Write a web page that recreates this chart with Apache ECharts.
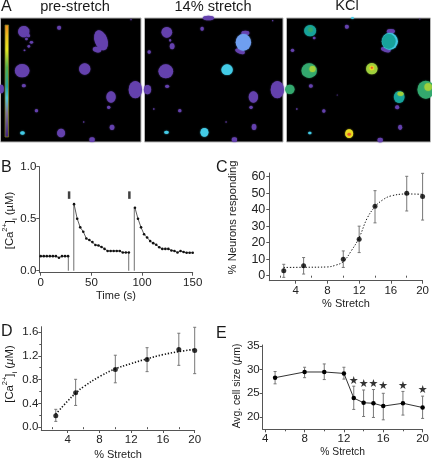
<!DOCTYPE html>
<html><head><meta charset="utf-8">
<style>html,body{margin:0;padding:0;background:#fff}#c{width:432px;height:461px}</style>
<script src="https://cdn.jsdelivr.net/npm/echarts@6/dist/echarts.min.js"></script>
</head><body><div id="c"></div>
<script>
// Panel A: cells as [x, y, w, h, level, angle] in image pixels (x3)
const levelColors = ['#6441ad','#6f9ff0','#43cbe6','#17a39b','#33a86e','#9fd03c','#e9de24','#e8602a'];
const cellsPre = [[193,53,24,12,0,0],[70,96,34,34,0,-20],[84,108,10,10,0,0],[176,84,12,12,0,0],[392,60,4,4,0,0],[302,122,38,62,0,20],[290,150,26,16,0,-15],[78,118,8,8,0,0],[93,128,10,8,0,0],[85,140,8,8,0,0],[72,152,6,5,0,0],[65,213,44,40,0,0],[253,208,34,34,0,0],[405,270,40,52,0,0],[2,268,16,26,0,0],[70,258,12,10,0,0],[332,292,28,34,0,0],[325,323,10,10,0,0],[108,333,10,10,0,0],[335,383,14,16,0,0],[182,400,24,26,0,0],[275,420,16,14,0,0],[66,400,14,10,2,0],[250,367,4,4,0,0]];
const cellsStretch = [[192,55,34,14,0,0],[67,98,32,32,0,0],[173,87,10,12,0,0],[83,140,14,18,0,0],[77,122,6,8,0,0],[14,157,10,10,0,0],[64,215,44,42,0,0],[68,260,12,10,0,0],[9,270,22,28,0,0],[106,333,10,10,0,0],[28,328,5,4,0,0],[66,398,14,10,2,0],[180,398,24,26,2,0],[303,100,24,14,0,0],[287,155,30,14,0,-20],[297,128,46,50,1,0],[248,210,34,32,2,0],[399,270,40,52,0,0],[327,292,28,34,0,0],[320,323,10,10,0,0],[329,382,14,18,0,0],[270,420,16,14,0,0],[245,367,4,4,0,0],[385,63,4,4,0,0]];
const cellsKCl = [[71,93,36,34,3,0],[72,90,14,14,4,0],[83,115,8,8,0,0],[181,81,12,12,0,0],[18,152,10,10,0,0],[68,213,46,44,4,0],[78,208,18,18,5,0],[256,207,34,34,5,0],[256,205,14,14,6,0],[256,204,6,6,7,0],[10,269,28,28,4,0],[73,259,12,10,0,0],[418,270,50,54,4,0],[425,262,22,22,5,0],[338,292,32,36,3,0],[342,282,18,12,5,0],[332,323,12,12,0,0],[31,328,5,5,0,0],[112,334,10,10,0,0],[341,383,12,16,0,0],[188,402,24,26,6,0],[188,404,10,8,7,0],[70,400,10,8,2,0],[281,421,16,14,0,0],[313,95,24,14,0,0],[298,150,30,14,0,-15],[310,125,48,50,2,0],[307,125,40,44,3,0],[198,55,8,6,2,0],[152,286,3,3,0,0],[400,58,3,3,0,0]];
const titlesA = ['pre-stretch','14% stretch','KCl'];

// Panel B
const timeA = [0,3,6,9,12,15,18,21,24,27];
const caA = [0.14,0.14,0.14,0.14,0.14,0.14,0.125,0.14,0.14,0.14];
const timeB = [32.9,36,39,42,45,48,51,54,57,60,63,66,69,72,75,78,81,84,87];
const caB = [0.64,0.5,0.417,0.375,0.31,0.295,0.275,0.247,0.243,0.228,0.21,0.19,0.19,0.19,0.19,0.19,0.175,0.175,0.175];
const timeC = [93,96,99,102,105,108,111,114,117,120,123,126,129,132,135,138,141,144,147,150];
const caC = [0.605,0.5,0.417,0.35,0.32,0.285,0.265,0.25,0.225,0.21,0.21,0.21,0.195,0.19,0.175,0.19,0.18,0.173,0.173,0.173];
const dropTimes = [27.3,32.6,86.8,92.4];
const dropTops = [0.14,0.64,0.175,0.605];
const stimTimes = [28,87.5];
const stimLevel = [0.727,0.727];

// Panel C
const cX = [2.5,5,10,12,14,18,20];
const cY = [3,6,10,22,42,50,48];
const cLow = [-1,1,5,14,32,39.2,33.7];
const cHigh = [6.9,11,15,30,51.5,60.2,62];
const cFitX = [2.5,5,8,9,10,11,12,13,14,15,16,18,20];
const cFitY = [5,5.1,5.3,6.3,8.5,15,23,34.7,41.8,46,48.3,49.5,49.3];

// Panel D
const dX = [2.5,5,10,14,18,20];
const dY = [0.193,0.58,0.97,1.14,1.305,1.29];
const dLow = [0.097,0.365,0.746,0.934,1.04,0.9];
const dHigh = [0.3,0.805,1.21,1.337,1.58,1.68];
const dFitX = [2.5,4,5,6,8,10,12,14,16,18,20];
const dFitY = [0.22,0.44,0.57,0.68,0.85,0.98,1.07,1.15,1.22,1.27,1.31];

// Panel E
const eX = [5,8,10,12,13,14,15,16,18,20];
const eY = [28.3,29.5,29.5,29.2,24,23,22.9,22.3,22.9,22];
const eLow = [27,28.3,27.9,28,21.6,20.1,19.9,19.4,20.4,19.7];
const eHigh = [29.6,30.5,31.2,30.5,26.5,25.7,25.8,25,25.4,24.4];
const starX = [13,14,15,16,18,20];
const starY = [27.5,27,27,26.6,26.5,25.6];

// Ticks
const bXTicks = [0,50,100,150], bYTicks = [0,0.5,1];
const cXTicks = [4,8,12,16,20], cXMinor = [2,6,10,14,18], cYTicks = [0,10,20,30,40,50,60];
const dYTicks = [0,0.4,0.8,1.2,1.6], dYMinor = [0.2,0.6,1,1.4];
const eXTicks = [4,8,12,16,20], eXMinor = [6,10,14,18], eYTicks = [20,25,30,35];

const FONT = '"Liberation Sans", Arial, sans-serif';
const INK = '#222', AXIS = '#555', BAR = '#777';
const grids = [], xAxes = [], yAxes = [], series = [];

function zip(a, b) { return a.map((v, i) => [v, b[i]]); }

function panel(p) {
  const g = grids.length;
  grids.push({ left: p.left, top: p.top, width: p.right - p.left, height: p.bottom - p.top, containLabel: false });
  const common = { type: 'value', gridIndex: g, splitLine: { show: false }, scale: true,
    axisLine: { show: true, onZero: false, lineStyle: { color: AXIS, width: 1 } } };
  const label = (vals, fs, fmt, m) => ({ customValues: vals, fontFamily: FONT, fontSize: fs, color: INK, margin: m, formatter: fmt, showMinLabel: true, showMaxLabel: true, hideOverlap: false });
  xAxes.push(Object.assign({}, common, { min: p.xMin, max: p.xMax, position: 'bottom',
    axisTick: { customValues: p.xTicks, length: 3, lineStyle: { color: AXIS } },
    axisLabel: label(p.xTicks, p.xFs || 11.5, v => String(v), 4),
    name: p.xName, nameLocation: 'middle', nameGap: p.xGap,
    nameTextStyle: { fontFamily: FONT, fontSize: p.xNameFs || 11, color: INK } }));
  const xi = xAxes.length - 1;
  yAxes.push(Object.assign({}, common, { min: p.yMin, max: p.yMax, position: 'left',
    axisTick: { customValues: p.yTicks, length: 3, lineStyle: { color: AXIS } },
    axisLabel: label(p.yTicks, p.yFs || 11.5, p.yFmt || (v => String(v)), p.yMargin || 3) }));
  const yi = yAxes.length - 1;
  if (p.xMinor) xAxes.push(Object.assign({}, common, { min: p.xMin, max: p.xMax, position: 'bottom', offset: 0,
    axisLine: { show: false }, axisLabel: { show: false },
    axisTick: { customValues: p.xMinor, length: 2, lineStyle: { color: AXIS } } }));
  if (p.yMinor) yAxes.push(Object.assign({}, common, { min: p.yMin, max: p.yMax, position: 'left', offset: 0,
    axisLine: { show: false }, axisLabel: { show: false },
    axisTick: { customValues: p.yMinor, length: 2, lineStyle: { color: AXIS } } }));
  return { xAxisIndex: xi, yAxisIndex: yi };
}

function errorBars(ax, xs, lows, highs, capW) {
  series.push(Object.assign({}, ax, { type: 'custom', silent: true, z: 2, clip: false,
    data: xs.map((x, i) => [x, lows[i], highs[i]]),
    encode: { x: 0, y: [1, 2] },
    renderItem(params, api) {
      const a = api.coord([api.value(0), api.value(1)]);
      const b = api.coord([api.value(0), api.value(2)]);
      const st = { stroke: BAR, lineWidth: 1, fill: null };
      const ln = (x1, y1, x2, y2) => ({ type: 'line', shape: { x1, y1, x2, y2 }, style: st });
      return { type: 'group', children: [
        ln(a[0], a[1], b[0], b[1]),
        ln(a[0] - capW, a[1], a[0] + capW, a[1]),
        ln(b[0] - capW, b[1], b[0] + capW, b[1])
      ] };
    } }));
}

function fitCurve(ax, xs, ys, w) {
  series.push(Object.assign({}, ax, { type: 'line', data: zip(xs, ys), smooth: 0.4, showSymbol: false, silent: true, z: 3,
    lineStyle: { color: '#111', width: w, type: [1.3, 1.8] } }));
}
function dots(ax, xs, ys, size) {
  series.push(Object.assign({}, ax, { type: 'scatter', data: zip(xs, ys), symbol: 'circle', symbolSize: size, silent: true, z: 4,
    itemStyle: { color: '#000' } }));
}

// Panel A image panels
function imagePanel(left, right, cells, widthUnits) {
  const g = grids.length;
  grids.push({ left, top: 18, width: right - left, height: 124, show: true, backgroundColor: '#000', borderColor: '#b5b5b5', borderWidth: 1 });
  const hidden = { type: 'value', gridIndex: g, show: false, splitLine: { show: false } };
  xAxes.push(Object.assign({}, hidden, { min: 0, max: widthUnits }));
  yAxes.push(Object.assign({}, hidden, { min: 55, max: 427, inverse: true }));
  series.push({ type: 'scatter', xAxisIndex: xAxes.length - 1, yAxisIndex: yAxes.length - 1, silent: true, clip: true,
    data: cells.map(c => ({ value: [c[0], c[1]], symbolSize: [c[2] / 3, c[3] / 3], symbolRotate: c[5],
      itemStyle: { color: levelColors[c[4]], shadowBlur: 1.5, shadowColor: levelColors[c[4]], opacity: 1 } })) });
}
imagePanel(0.5, 141, cellsPre, 422);
imagePanel(144.5, 283, cellsStretch, 416);
imagePanel(286.5, 430.5, cellsKCl, 432);

// B
const axB = panel({ left: 39.3, right: 192.7, top: 166.7, bottom: 272.7, xMin: -1.4, xMax: 150, yMin: -0.019, yMax: 1,
  xTicks: bXTicks, yTicks: bYTicks, yFmt: v => v.toFixed(1), xName: 'Time (s)', xGap: 18 });
dropTimes.forEach((t, i) => series.push(Object.assign({}, axB, { type: 'line', data: [[t, 0], [t, dropTops[i]]], showSymbol: false, silent: true, z: 2,
  lineStyle: { color: '#888', width: 1.2 } })));
[[timeA, caA], [timeB, caB], [timeC, caC]].forEach(([t, v]) => series.push(Object.assign({}, axB, { type: 'line', data: zip(t, v), symbol: 'circle', symbolSize: 2.6, silent: true, z: 3,
  itemStyle: { color: '#111' }, lineStyle: { color: '#333', width: 0.8 } })));
series.push(Object.assign({}, axB, { type: 'scatter', data: zip(stimTimes, stimLevel), symbol: 'rect', symbolSize: [2.5, 7.5], silent: true, itemStyle: { color: '#111' } }));

// C
const axC = panel({ left: 269.3, right: 422.7, top: 173, bottom: 280.7, xMin: 0.675, xMax: 20, yMin: -3.03, yMax: 62.2,
  xTicks: cXTicks, xMinor: cXMinor, yTicks: cYTicks, xName: '% Stretch', xGap: 18, yFs: 12.5, yMargin: 4 });
errorBars(axC, cX, cLow, cHigh, 1.5);
fitCurve(axC, cFitX, cFitY, 1);
dots(axC, cX, cY, 5);

// D
const axD = panel({ left: 41.3, right: 194.7, top: 326.7, bottom: 433.3, xMin: 0.675, xMax: 20, yMin: -0.048, yMax: 1.69,
  xTicks: cXTicks, xMinor: cXMinor, yTicks: dYTicks, yMinor: dYMinor, yFmt: v => v.toFixed(1), xName: '% Stretch', xGap: 19 });
errorBars(axD, dX, dLow, dHigh, 1.5);
fitCurve(axD, dFitX, dFitY, 1.6);
dots(axD, dX, dY, 5);

// E
const axE = panel({ left: 262.7, right: 426, top: 345, bottom: 429.3, xMin: 3.74, xMax: 20, yMin: 17.4, yMax: 35.2,
  xTicks: eXTicks, xMinor: eXMinor, yTicks: eYTicks, xName: '% Stretch', xGap: 18, xNameFs: 10.3 });
errorBars(axE, eX, eLow, eHigh, 1.5);
series.push(Object.assign({}, axE, { type: 'line', data: zip(eX, eY), symbol: 'circle', symbolSize: 4.5, silent: true, z: 4,
  itemStyle: { color: '#000' }, lineStyle: { color: '#333', width: 1 } }));
series.push(Object.assign({}, axE, { type: 'scatter', data: zip(starX, starY), symbolSize: 0, silent: true, z: 5, clip: false,
  label: { show: true, position: 'inside', formatter: '★', fontFamily: '"DejaVu Sans"', fontSize: 11, color: '#000' } }));

const txt = (t, x, y, fs, align) => ({ type: 'text', x, y, silent: true, style: { text: t, fontFamily: FONT, fontSize: fs, fill: '#1a1a1a', textAlign: align || 'center', textVerticalAlign: 'middle' } });
const rb = (fs, extra) => Object.assign({ fontFamily: FONT, fontSize: fs, fill: '#1a1a1a', lineHeight: 18, verticalAlign: 'middle' }, extra || {});
const rich = {
  b: rb(11.3), it: rb(11.3, { fontStyle: 'italic' }),
  sup: rb(7.5, { verticalAlign: 'top', lineHeight: 14 }), sub: rb(7.5, { verticalAlign: 'bottom', lineHeight: 14 })
};
const vtxt = (t, x, y, fs) => ({ type: 'text', x, y, rotation: Math.PI / 2, silent: true,
  style: { text: t, fontFamily: FONT, fontSize: fs, fill: '#1a1a1a', align: 'center', verticalAlign: 'middle', rich } });
const graphic = [
  txt('A', 1, 7, 16, 'left'), txt('B', 1, 168, 16, 'left'), txt('C', 216, 168, 16, 'left'), txt('D', 1, 332, 16, 'left'), txt('E', 216, 334, 16, 'left'),
  txt(titlesA[0], 75, 7, 14.6), txt(titlesA[1], 213, 7, 14.6), txt(titlesA[2], 347, 6, 14.6),
  vtxt('{b|[Ca}{sup|2+}{b|]}{sub|i}{b| (µM)}', 10, 220.5, 11.3),
  vtxt('{b|[Ca}{sup|2+}{b|]}{sub|i}{b| (}{it|µ}{b|M)}', 9.5, 374, 11.3),
  vtxt('% Neurons responding', 233.3, 217.5, 11.2),
  vtxt('Avg. cell size ({it|µ}m)', 236.7, 386, 10.3),
  { type: 'rect', silent: true, z: 100, shape: { x: 5, y: 25, width: 3.6, height: 112 },
    style: { stroke: '#7a7a20', lineWidth: 0.8, fill: { type: 'linear', x: 0, y: 0, x2: 0, y2: 1, colorStops: [
      { offset: 0, color: '#f08a20' }, { offset: 0.1, color: '#f0c020' }, { offset: 0.22, color: '#e8e820' }, { offset: 0.38, color: '#50b050' },
      { offset: 0.55, color: '#20a0a0' }, { offset: 0.65, color: '#50c8d8' }, { offset: 0.78, color: '#807898' }, { offset: 1, color: '#402080' } ] } } }
];

echarts.init(document.getElementById('c'), null, { renderer: 'canvas' }).setOption({
  animation: false, backgroundColor: '#fff', grid: grids, xAxis: xAxes, yAxis: yAxes, series, graphic
});
</script></body></html>
